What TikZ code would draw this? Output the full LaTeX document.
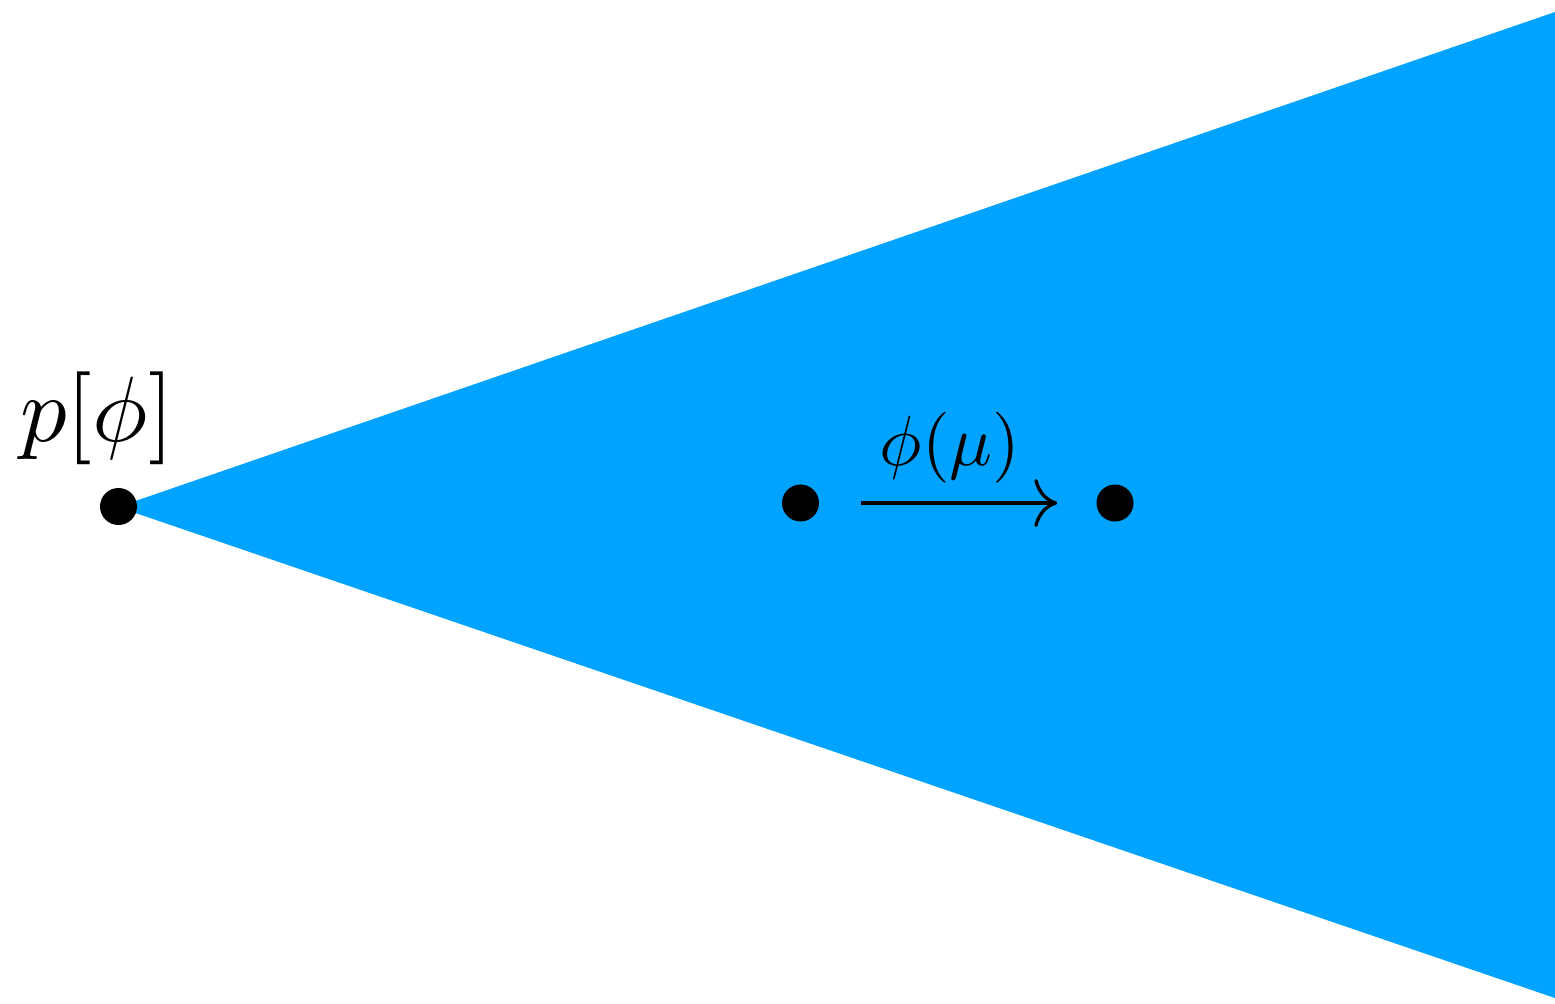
\documentclass[tikz,border=0pt]{standalone}
\usetikzlibrary{arrows.meta}
\definecolor{coneblue}{RGB}{0,163,255}
\begin{document}
\begin{tikzpicture}[x=0.01cm,y=-0.01cm,
  dotnode/.style={circle,fill=black,inner sep=0pt,minimum size=0.37cm},
  textlbl/.style={anchor=base,inner sep=0pt},
  mapline/.style={line width=0.95pt,-{Computer Modern Rightarrow[length=0.23cm,width=0.48cm,line width=0.95pt]}}]
\useasboundingbox (0,0) rectangle (1555,1003);
\fill[coneblue] (118,507) -- (1555,12) -- (1555,998) -- cycle;
\node[dotnode] (a) at (118.5,506.5) {};
\node[dotnode] (b) at (800.5,503) {};
\node[dotnode] (c) at (1115,503) {};
\node[textlbl] (pl) at (97,441) {\scalebox{2.64}{$p[\phi]$}};
\node[textlbl] (ml) at (950,465) {\scalebox{2.02}{$\phi(\mu)$}};
\draw[mapline,shorten <=0.415cm,shorten >=0.385cm] (b) -- (c);
\end{tikzpicture}
\end{document}
